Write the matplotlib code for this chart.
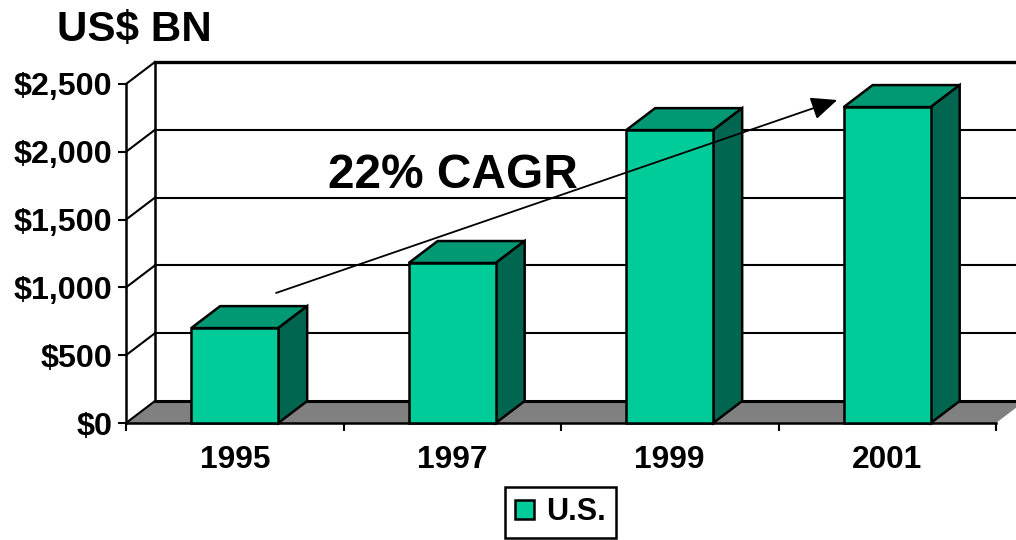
import matplotlib
matplotlib.use("Agg")
import matplotlib.pyplot as plt
from matplotlib.patches import Polygon, Patch

plt.rcParams['font.family'] = ['Liberation Sans', 'DejaVu Sans']
plt.rcParams['font.weight'] = 'bold'

#### data
years = ["1995", "1997", "1999", "2001"]
us_values = [700, 1180, 2160, 2330]
y_ticks = [0, 500, 1000, 1500, 2000, 2500]
y_tick_labels = ["$0", "$500", "$1,000", "$1,500", "$2,000", "$2,500"]
arrow_start = (0.69, 959)
arrow_end = (3.27, 2382)

## colors
front_color = "#00CC99"
top_color = "#009973"
side_color = "#006650"
floor_color = "#808080"

## 3d depth, in data units
dx = 0.133
dy = 162
bar_width = 0.40

W, H = 1016, 540
fig = plt.figure(figsize=(W / 100, H / 100), dpi=100)
ax = fig.add_axes([126 / W, (H - 423) / H, 870 / W, 339 / H])
n = len(years)
ax.set_xlim(0, n)
ax.set_ylim(0, y_ticks[-1])
ax.patch.set_visible(False)
for s in ax.spines.values():
    s.set_visible(False)

## floor
ax.add_patch(Polygon([(0, 0), (n, 0), (n + dx, dy), (dx, dy)], facecolor=floor_color,
                     edgecolor="none", clip_on=False, zorder=1))
ax.plot([dx, n + dx], [dy, dy], color="black", lw=2.2, clip_on=False, zorder=1.5)
ax.plot([0, n], [0, 0], color="black", lw=1.8, clip_on=False, zorder=4)

## back wall grid lines and side wall
for v in y_ticks[1:]:
    lw = 2.4 if v == y_ticks[-1] else 1.5
    ax.plot([dx, n + dx], [v + dy, v + dy], color="black", lw=lw, clip_on=False, zorder=1.2)
for v in y_ticks:
    ax.plot([0, dx], [v, v + dy], color="black", lw=1.5, clip_on=False, zorder=1.6)
ax.plot([0, 0], [0, y_ticks[-1]], color="black", lw=1.8, clip_on=False, zorder=2)
ax.plot([dx, dx], [dy, y_ticks[-1] + dy], color="black", lw=1.8, clip_on=False, zorder=1.3)

## bars
centers = [i + 0.5 for i in range(n)]
bars = ax.bar(centers, us_values, width=bar_width, color=front_color, edgecolor="black",
              linewidth=1.8, zorder=5, clip_on=False, label="U.S.")
for c, v in zip(centers, us_values):
    l, r = c - bar_width / 2, c + bar_width / 2
    ax.add_patch(Polygon([(l, v), (r, v), (r + dx, v + dy), (l + dx, v + dy)], facecolor=top_color,
                         edgecolor="black", lw=1.8, clip_on=False, zorder=4.5))
    ax.add_patch(Polygon([(r, 0), (r + dx, dy), (r + dx, v + dy), (r, v)], facecolor=side_color,
                         edgecolor="black", lw=1.8, clip_on=False, zorder=4.5))

## axis ticks
ax.set_yticks(y_ticks)
ax.set_yticklabels(y_tick_labels)
ax.set_xticks(range(n + 1))
ax.set_xticklabels([])
ax.set_xticks(centers, labels=years, minor=True)
ax.tick_params(axis="y", length=6, width=1.5, pad=4, labelsize=23.2)
ax.tick_params(axis="x", which="major", length=5.5, width=1.5)
ax.tick_params(axis="x", which="minor", length=0, pad=16, labelsize=22.8)

## trend arrow and labels
ax.annotate("", xy=arrow_end, xytext=arrow_start, zorder=7, annotation_clip=False,
            arrowprops=dict(arrowstyle="-|>,head_length=16,head_width=7", mutation_scale=1,
                            color="black", lw=1.3, shrinkA=0, shrinkB=0))
fig.text(328 / W, 1 - 176 / H, "22% CAGR", fontsize=34.5, va="center", ha="left", zorder=8)
fig.text(57 / W, 1 - 30 / H, "US$ BN", fontsize=30.3, va="center", ha="left")

## legend
ax.legend(handles=[Patch(facecolor=front_color, edgecolor="black", lw=1.8, label="U.S.")],
          loc="center", bbox_to_anchor=(560.5 / W, 1 - 512.5 / H), bbox_transform=fig.transFigure,
          fontsize=22, fancybox=False, framealpha=1, edgecolor="black",
          handlelength=0.6, handleheight=0.6, handletextpad=0.4, borderpad=0.35, borderaxespad=0)
ax.get_legend().get_frame().set_linewidth(1.8)

plt.savefig("out.png", dpi=100)
plt.close(fig)
